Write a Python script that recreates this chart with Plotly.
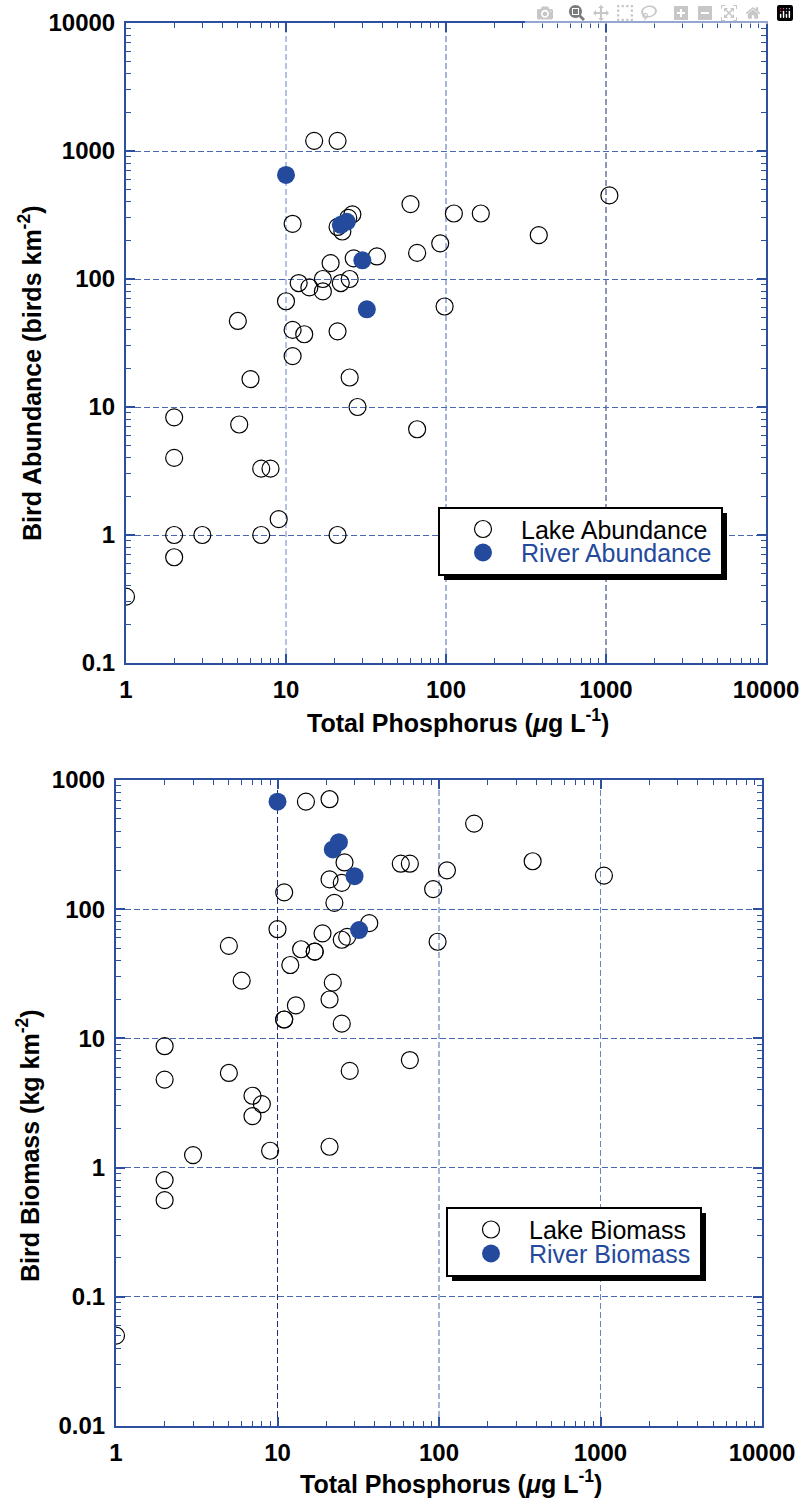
import plotly.graph_objects as go

# ---------------- data ----------------
# Top panel: bird abundance (birds km^-2) vs total phosphorus (ug L^-1)
lake_abund_tp = [1, 2, 2, 2, 2, 3, 5, 5.1, 6, 7, 8, 7, 9, 10, 11, 11, 11, 12, 13, 14,
                 15, 17, 17, 19, 21, 21, 21, 21, 22, 22.5, 24.5, 26, 25, 25, 26.5, 28,
                 37, 60, 66, 66, 92, 98, 112, 165, 380, 1050]
lake_abund = [0.33, 0.67, 1, 4, 8.3, 1, 47, 7.3, 16.5, 3.3, 3.3, 1, 1.33, 67, 270, 40,
              25, 93, 37, 86, 1200, 100, 80, 133, 1200, 39, 1, 255, 93, 235, 300, 320,
              100, 17, 145, 10, 150, 385, 160, 6.7, 190, 61, 325, 325, 220, 450]
river_abund_tp = [10, 22, 24, 30, 32]
river_abund = [650, 265, 280, 140, 58]

# Bottom panel: bird biomass (kg km^-2) vs total phosphorus (ug L^-1)
lake_bio_tp = [1, 2, 2, 2, 2, 3, 5, 5, 6, 7, 7, 8, 9, 10, 11, 11, 11, 12, 13, 14,
               15, 17, 17, 19, 21, 21, 21, 21, 22, 22.5, 25, 25, 25, 26, 27, 28,
               37, 58, 66, 66, 92, 98, 112, 165, 380, 1050]
lake_bio = [0.05, 0.56, 0.8, 4.8, 8.7, 1.25, 52, 5.4, 28, 3.6, 2.5, 3.1, 1.35, 70, 135,
            14, 14, 37, 18, 49, 680, 47, 47, 65, 710, 170, 20, 1.45, 27, 112, 160, 58,
            13, 230, 61, 5.6, 78, 225, 225, 6.8, 143, 56, 200, 460, 235, 182]
river_bio_tp = [10, 22, 24, 30, 32]
river_bio = [680, 290, 330, 180, 69]

x_ticks = [1, 10, 100, 1000, 10000]
x_ticktext = ["1", "10", "100", "1000", "10000"]
y1_ticks = [0.1, 1, 10, 100, 1000, 10000]
y1_ticktext = ["0.1", "1", "10", "100", "1000", "10000"]
y2_ticks = [0.01, 0.1, 1, 10, 100, 1000]
y2_ticktext = ["0.01", "0.1", "1", "10", "100", "1000"]

legend1_names = ["Lake Abundance", "River Abundance"]
legend2_names = ["Lake Biomass", "River Biomass"]

# ---------------- styling ----------------
W, H = 799, 1501
BLUE = "#234a9c"
AXIS = "#2c4f9f"
GRID = "#4a68b0"
DASH = "6px,3px"
FONT = "Liberation Sans"

# vertical grid-line colours at x = 10, 100, 1000 (top / bottom panel)
vgrid_top = ["#6a85c0", "#4a68b0", "#1f2f6a"]
vgrid_bot = ["#1f2f6a", "#4a68b0", "#6a85c0"]


def px(x):
    return x / W


def py(y):
    return 1 - y / H


def minor_vals(lo, hi):
    vals = []
    for e in range(lo, hi):
        for k in range(2, 10):
            vals.append(k * 10 ** e)
    return vals


def axis_style(tickvals, ticktext, rng, minor, grid=True):
    return dict(
        type="log", range=rng, tickvals=tickvals, ticktext=ticktext,
        automargin=False, ticklabeloverflow="allow",
        showline=True, linecolor=AXIS, linewidth=2, mirror="ticks",
        ticks="inside", ticklen=9, tickwidth=1.5, tickcolor=AXIS,
        showgrid=grid, gridcolor=GRID, gridwidth=1, griddash=DASH,
        zeroline=False,
        tickfont=dict(family=FONT, size=24, color="black", weight="bold"),
        minor=dict(tickvals=minor, ticks="inside", ticklen=5, tickwidth=1.2,
                   tickcolor=AXIS, showgrid=False),
        ticklabelstandoff=4,
    )


lake_marker = dict(symbol="circle-open", size=17, color="black", line=dict(width=1.2))
river_marker = dict(symbol="circle", size=18, color=BLUE, line=dict(width=0))

fig = go.Figure()
fig.add_trace(go.Scatter(x=lake_abund_tp, y=lake_abund, mode="markers",
                         marker=lake_marker, name=legend1_names[0],
                         xaxis="x", yaxis="y", showlegend=False))
fig.add_trace(go.Scatter(x=river_abund_tp, y=river_abund, mode="markers",
                         marker=river_marker, name=legend1_names[1],
                         xaxis="x", yaxis="y", showlegend=False))
fig.add_trace(go.Scatter(x=lake_bio_tp, y=lake_bio, mode="markers",
                         marker=lake_marker, name=legend2_names[0],
                         xaxis="x2", yaxis="y2", showlegend=False))
fig.add_trace(go.Scatter(x=river_bio_tp, y=river_bio, mode="markers",
                         marker=river_marker, name=legend2_names[1],
                         xaxis="x2", yaxis="y2", showlegend=False))

xa1 = axis_style(x_ticks, x_ticktext, [0, 4], minor_vals(0, 4), grid=False)
xa1.update(domain=[px(126), px(766)], anchor="y")
ya1 = axis_style(y1_ticks, y1_ticktext, [-1, 4], minor_vals(-1, 4))
ya1.update(domain=[py(663), py(23)], anchor="x")
xa2 = axis_style(x_ticks, x_ticktext, [0, 4], minor_vals(0, 4), grid=False)
xa2.update(domain=[px(116), px(762)], anchor="y2")
ya2 = axis_style(y2_ticks, y2_ticktext, [-2, 3], minor_vals(-2, 3))
ya2.update(domain=[py(1426), py(780)], anchor="x2")

shapes = []
annotations = []

# vertical grid lines (drawn as axis-referenced lines so each can keep its own shade)
for xr, yr, cols in (("x", "y domain", vgrid_top), ("x2", "y2 domain", vgrid_bot)):
    for tv, col in zip(x_ticks[1:4], cols):
        shapes.append(dict(type="line", xref=xr, yref=yr, x0=tv, x1=tv, y0=0, y1=1,
                           line=dict(color=col, width=1, dash=DASH), layer="below"))


def add_legend(box, names, marker_x, rows, text_x):
    x0, y0, x1, y1 = box
    shapes.append(dict(type="rect", xref="paper", yref="paper",
                       x0=px(x0 + 5), x1=px(x1 + 5), y0=py(y1 + 5), y1=py(y0 + 5),
                       fillcolor="black", line=dict(width=0), layer="above"))
    shapes.append(dict(type="rect", xref="paper", yref="paper",
                       x0=px(x0), x1=px(x1), y0=py(y1), y1=py(y0),
                       fillcolor="white", line=dict(color="black", width=2), layer="above"))
    # legend symbols
    shapes.append(dict(type="circle", xref="paper", yref="paper",
                       xsizemode="pixel", ysizemode="pixel",
                       xanchor=px(marker_x), yanchor=py(rows[0]),
                       x0=-8.5, x1=8.5, y0=-8.5, y1=8.5,
                       fillcolor="white", line=dict(color="black", width=1.2), layer="above"))
    shapes.append(dict(type="circle", xref="paper", yref="paper",
                       xsizemode="pixel", ysizemode="pixel",
                       xanchor=px(marker_x), yanchor=py(rows[1]),
                       x0=-9, x1=9, y0=-9, y1=9,
                       fillcolor=BLUE, line=dict(width=0), layer="above"))
    for name, ry, col in zip(names, rows, ["black", BLUE]):
        annotations.append(dict(text=name, xref="paper", yref="paper",
                                x=px(text_x), y=py(ry), xanchor="left", yanchor="middle",
                                height=23, valign="middle", showarrow=False,
                                font=dict(family=FONT, size=25, color=col)))


add_legend((439, 508, 722, 575), legend1_names, 483, (529, 552.5), 519)
add_legend((447, 1208, 701, 1276), legend2_names, 491, (1229.5, 1253.5), 527)

title_font = dict(family=FONT, size=25, color="black", weight="bold")
annotations += [
    dict(text="Total Phosphorus (<i>\u03bc</i>g L<sup>-1</sup>)", xref="paper", yref="paper",
         x=px(458), y=py(721), xanchor="center", yanchor="middle", showarrow=False,
         font=title_font),
    dict(text="Bird Abundance (birds km<sup>-2</sup>)", xref="paper", yref="paper",
         x=px(30), y=py(373), xanchor="center", yanchor="middle", showarrow=False,
         textangle=-90, font=title_font),
    dict(text="Total Phosphorus (<i>\u03bc</i>g L<sup>-1</sup>)", xref="paper", yref="paper",
         x=px(451), y=py(1482), xanchor="center", yanchor="middle", showarrow=False,
         font=title_font),
    dict(text="Bird Biomass (kg km<sup>-2</sup>)", xref="paper", yref="paper",
         x=px(28), y=py(1146), xanchor="center", yanchor="middle", showarrow=False,
         textangle=-90, font=title_font),
]

fig.update_layout(
    width=W, height=H, margin=dict(l=0, r=0, t=0, b=0, autoexpand=False),
    paper_bgcolor="white", plot_bgcolor="white",
    xaxis=xa1, yaxis=ya1, xaxis2=xa2, yaxis2=ya2,
    shapes=shapes, annotations=annotations, showlegend=False,
    font=dict(family=FONT),
)

fig.write_html("out.html", post_script="document.body.style.margin='0';")
